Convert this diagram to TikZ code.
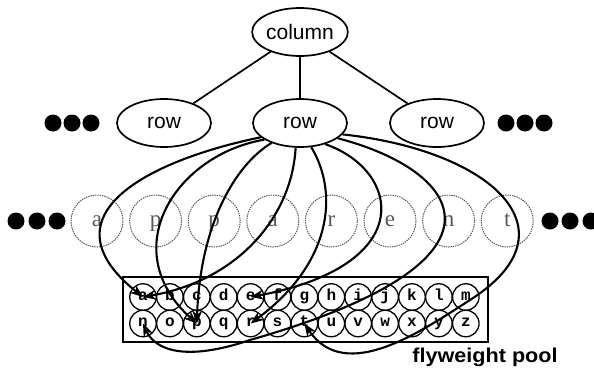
\documentclass[tikz,border=0pt]{standalone}
\usepackage{fontspec}
\usepackage{graphicx}
\setmainfont{Liberation Sans}
\newfontfamily\ghostfont{Liberation Serif}
\newfontfamily\poolfont{Liberation Mono}
\usetikzlibrary{shapes.geometric,arrows.meta}
\tikzset{
	treenode/.style={ellipse,draw,line width=1.7pt,minimum width=94pt,minimum height=48pt,inner sep=0pt,font=\fontsize{21}{21}\selectfont},
	ghost/.style={circle,draw=black!65,dash pattern=on 1.4pt off 0.9pt,line width=1pt,minimum size=52pt,inner sep=0pt,text=black!65,text height=15pt,text depth=5pt,font=\ghostfont\fontsize{23}{23}\selectfont},
	poolchar/.style={circle,draw,line width=1.3pt,minimum size=26.5pt,inner sep=0pt,text height=10.5pt,text depth=4pt,font=\poolfont\bfseries\fontsize{16}{16}\selectfont},
	blob/.style={circle,fill=black,minimum size=17pt,inner sep=0pt},
	link/.style={line width=2.1pt,-{Stealth[length=13pt,width=10pt]},shorten >=0pt}
}
\begin{document}
\begin{tikzpicture}[x=1pt,y=-1pt]
	\useasboundingbox (0,0) rectangle (594,367);
	
	%Column and its Rows
	\node[treenode] (col) at (300,32) {column};
	\node[treenode] (rowl) at (164,123) {row};
	\node[treenode] (row) at (300,123) {row};
	\node[treenode] (rowr) at (437,123) {row};
	\draw[line width=1.7pt] (col) -- (rowl);
	\draw[line width=1.7pt] (col) -- (row);
	\draw[line width=1.7pt] (col) -- (rowr);
	
	%Dots beside the Rows
	\foreach \x [count=\i] in {53,72,91}
	\node[blob] (dl\i) at (\x,123) {};
	\foreach \x [count=\i] in {506,525,544}
	\node[blob] (dr\i) at (\x,123) {};
	
	%Characters of the Row
	\foreach \ch [count=\i from 0] in {a,p,p,a,r,e,n,t}
	\node[ghost] (g\i) at (97+58.6*\i,221) {\ch};
	\foreach \x [count=\i] in {16,37,57}
	\node[blob] (el\i) at (\x,221) {};
	\foreach \x [count=\i] in {550,570,591}
	\node[blob] (er\i) at (\x,221) {};
	
	%Flyweight Pool
	\draw[line width=1.2pt] (123,277) rectangle (488,342);
	\foreach \ch [count=\i from 0] in {a,b,c,d,e,f,g,h,i,j,k,l,m}
	\node[poolchar] (p\ch) at (143+26.9*\i,297) {\ch};
	\foreach \ch [count=\i from 0] in {n,o,p,q,r,s,t,u,v,w,x,y,z}
	\node[poolchar] (p\ch) at (143+26.9*\i,323.5) {\ch};
	\node[font=\bfseries\fontsize{20}{20}\selectfont,anchor=base] (pool) at (485,362) {\scalebox{1.08}[1]{flyweight pool}};
	
	%References from the Row into the Pool
	\draw[link] (row.200) .. controls (150,160) and (40,215) .. (pa.center);
	\draw[link] (row.205) .. controls (175,155) and (115,250) .. (pp.center);
	\draw[link] (row.215) .. controls (235,165) and (200,225) .. (pp.center);
	\draw[link] (row.260) .. controls (292,215) and (240,280) .. (pa.center);
	\draw[link] (row.295) .. controls (340,195) and (330,265) .. (pr.center);
	\draw[link] (row.320) .. controls (400,170) and (420,265) .. (pe.center);
	\draw[link] (row.338) .. controls (460,170) and (530,260) .. (250,340) .. controls (185,362) and (155,350) .. (pn.center);
	\draw[link] (row.345) .. controls (490,150) and (580,230) .. (470,300) .. controls (423,330) and (345,385) .. (pt.center);
	
\end{tikzpicture}
\end{document}
